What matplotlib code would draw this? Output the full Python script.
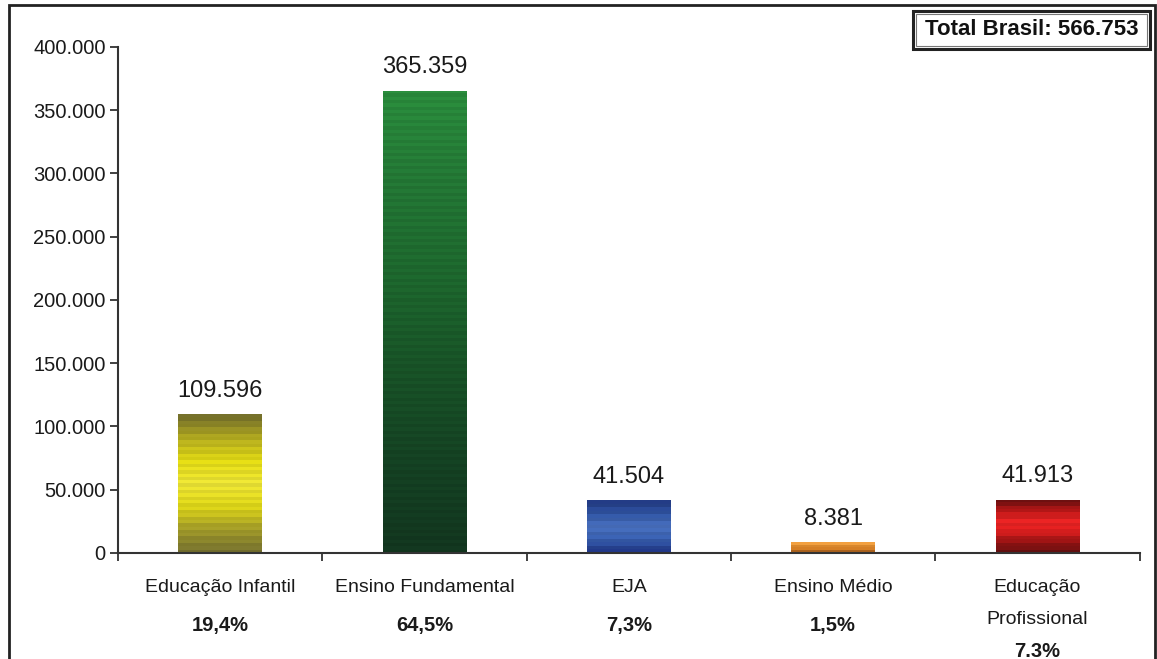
import matplotlib.pyplot as plt
import numpy as np
from matplotlib.colors import LinearSegmentedColormap
from matplotlib.patches import Rectangle
from matplotlib.ticker import FuncFormatter, MultipleLocator

plt.rcParams["font.family"] = ["Liberation Sans", "DejaVu Sans"]

categories = ["Educação Infantil", "Ensino Fundamental", "EJA", "Ensino Médio", "Educação\nProfissional"]
values = [109596, 365359, 41504, 8381, 41913]
shares = ["19,4%", "64,5%", "7,3%", "1,5%", "7.3%"]
total_label = "Total Brasil: 566.753"

# colour stops for each bar, top -> bottom
bar_stops = [
    ["#76712c", "#b8b020", "#e8e014", "#f2ea38", "#e4dc18", "#a9a22a", "#7a7530"],
    ["#2b8f3e", "#247a36", "#1e6a2f", "#195528", "#154424", "#133820"],
    ["#233c86", "#3258a8", "#4a72c2", "#3a62b4", "#22398a"],
    ["#f2a040", "#e48a2a", "#b86a20"],
    ["#6e1010", "#c01818", "#ec2424", "#e42020", "#a01414", "#6a1010"],
]


def thousands(v, pos=None):
    return f"{int(round(v)):,}".replace(",", ".")


fig = plt.figure(figsize=(11.57, 6.59), dpi=100)
ax = fig.add_axes([0.102, 0.161, 0.883, 0.768])

x = np.arange(len(categories))
bar_width = 0.41
bars = ax.bar(x, values, width=bar_width, color="none", edgecolor="none")

# striped vertical gradient, like the old office-chart fill
for bar, stops in zip(bars, bar_stops):
    cmap = LinearSegmentedColormap.from_list("bar", stops)
    rows = max(4, int(bar.get_height() / 2600))
    rgb = cmap(np.linspace(0, 1, rows))[:, :3]
    rgb[1::2] *= 0.93
    x0, y0 = bar.get_x(), bar.get_y()
    img = ax.imshow(rgb.reshape(rows, 1, 3), aspect="auto", interpolation="nearest",
                    extent=[x0, x0 + bar.get_width(), y0, y0 + bar.get_height()],
                    origin="upper", zorder=2)
    img.set_clip_path(bar)

for xi, v in zip(x, values):
    ax.annotate(thousands(v), (xi, v), xytext=(0, 9), textcoords="offset points",
                ha="center", va="bottom", fontsize=17, color="#1a1a1a")

trans = ax.get_xaxis_transform()
for xi, name, share in zip(x, categories, shares):
    lines = name.split("\n")
    for k, line in enumerate(lines):
        ax.text(xi, -0.069 - 0.063 * k, line, transform=trans, ha="center",
                va="center", fontsize=14, color="#1a1a1a")
    share_y = -0.144 if len(lines) == 1 else -0.195
    ax.text(xi, share_y, share, transform=trans, ha="center", va="center",
            fontsize=14.5, fontweight="bold", color="#1a1a1a")

ax.set_xlim(-0.5, len(categories) - 0.5)
ax.set_ylim(0, 400000)
ax.yaxis.set_major_locator(MultipleLocator(50000))
ax.yaxis.set_major_formatter(FuncFormatter(thousands))
ax.set_xticks(np.arange(len(categories) + 1) - 0.5)
ax.set_xticklabels([])
ax.tick_params(axis="x", direction="out", length=6, width=1.3, color="#333333")
ax.tick_params(axis="y", direction="out", length=6, width=1.3, color="#333333",
               labelsize=14.5, labelcolor="#1a1a1a", pad=3)

for side in ["top", "right"]:
    ax.spines[side].set_visible(False)
for side in ["left", "bottom"]:
    ax.spines[side].set_linewidth(1.5)
    ax.spines[side].set_color("#333333")

# "Total" box: thick outer frame with a thin inner line
fig.patches.append(Rectangle((0.789, 0.9256), 0.2048, 0.0577, transform=fig.transFigure,
                             facecolor="white", edgecolor="#222222", linewidth=2.2))
fig.patches.append(Rectangle((0.7915, 0.930), 0.1998, 0.049, transform=fig.transFigure,
                             fill=False, edgecolor="#777777", linewidth=0.8))
fig.text(0.8915, 0.9545, total_label, ha="center", va="center", fontsize=16,
         fontweight="bold", color="#111111")

# outer frame of the whole chart, open at the bottom
fig.patches.append(Rectangle((0.0078, -0.05), 0.9905, 1.0424, transform=fig.transFigure,
                             fill=False, edgecolor="#222222", linewidth=2))

fig.savefig("out.png", dpi=100)
